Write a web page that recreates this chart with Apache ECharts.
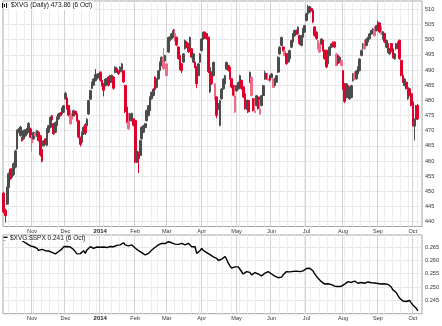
<!DOCTYPE html>
<html>
<head>
<meta charset="utf-8">
<script src="https://cdn.jsdelivr.net/npm/echarts@6/dist/echarts.min.js"></script>
<style>
  html, body { margin: 0; padding: 0; background: #fff; }
  #chart { width: 442px; height: 326px; }
</style>
</head>
<body>
<div id="chart"></div>
<script>
// ---- data -------------------------------------------------------------
const firstSession = '2013-10-09';
const lastSession = '2014-10-06';
const marketHolidays = ['2013-11-28', '2013-12-25', '2014-01-01', '2014-01-20',
  '2014-02-17', '2014-04-18', '2014-05-26', '2014-07-04', '2014-09-01'];
const monthNames = ['Jan', 'Feb', 'Mar', 'Apr', 'May', 'Jun', 'Jul', 'Aug', 'Sep', 'Oct', 'Nov', 'Dec'];

const priceTicks = [440, 445, 450, 455, 460, 465, 470, 475, 480, 485, 490, 495, 500, 505, 510];
const ratioTicks = [0.245, 0.250, 0.255, 0.260, 0.265];

// $XVG daily bars: [open, close, low, high]
const xvgBars = [
  [449.4,443.2,442.8,449.9],[443.8,442.0,439.7,444.3],[445.8,451.2,445.5,451.6],[451.3,455.8,451.0,456.2],
  [457.3,454.2,453.8,457.6],[454.6,457.2,454.3,457.6],[455.5,459.1,455.1,459.5],[458.0,463.3,457.6,463.7],
  [464.0,469.9,463.7,470.3],[469.4,470.5,469.2,470.8],[468.4,471.2,468.0,471.6],[467.8,466.7,466.4,468.0],
  [467.3,470.0,467.0,470.3],[468.3,470.3,468.0,470.5],[468.9,470.6,468.6,470.9],[469.5,472.4,469.2,472.8],
  [470.6,467.8,467.5,471.0],[466.0,467.5,463.1,468.6],[467.3,469.4,467.0,469.7],[468.2,469.2,468.0,469.8],
  [468.3,470.0,468.0,470.3],[469.5,466.8,466.4,469.8],[468.3,462.0,461.5,468.6],[463.8,460.0,459.5,464.2],
  [465.0,466.6,464.8,466.9],[467.3,465.6,465.3,467.5],[465.2,470.5,464.8,470.8],[469.5,471.6,469.2,471.9],
  [471.1,474.4,470.8,474.7],[474.9,473.5,471.4,475.2],[472.3,469.0,468.6,472.5],[469.5,472.7,469.2,473.0],
  [471.7,474.4,471.4,474.7],[473.9,475.5,473.6,475.8],[475.9,475.0,474.7,476.1],[475.5,477.4,475.2,477.7],
  [476.1,478.2,475.8,478.5],[480.5,482.3,480.2,482.8],[480.8,477.3,476.9,481.0],[478.3,475.1,474.7,478.5],
  [472.3,474.8,471.9,476.9],[473.8,474.6,473.6,475.8],[474.8,476.6,474.7,476.9],[476.4,475.4,475.2,476.5],
  [475.6,473.4,473.0,475.8],[473.3,467.9,467.5,473.6],[467.8,465.5,464.8,468.0],[466.2,469.3,465.9,469.7],
  [468.9,471.1,468.6,471.4],[472.0,469.3,468.6,472.5],[471.6,473.8,471.4,474.1],[475.5,479.9,475.2,480.2],
  [480.4,483.2,480.2,483.5],[483.9,485.9,483.7,486.2],[485.0,487.0,484.8,487.3],[486.5,488.5,486.2,490.3],
  [487.0,488.6,486.8,488.7],[487.5,488.8,487.3,489.0],[489.3,486.6,486.2,489.5],[486.6,485.0,484.6,486.8],
  [485.5,483.3,481.3,485.7],[484.8,487.0,484.6,487.3],[485.3,487.2,485.1,487.4],[487.7,485.0,484.6,487.9],
  [485.9,488.1,485.7,488.4],[487.0,488.3,486.8,488.5],[487.7,484.0,483.5,487.9],[489.2,490.9,489.0,491.2],
  [490.5,489.8,489.5,490.6],[489.8,488.8,488.4,490.0],[489.4,490.9,489.2,491.2],[490.2,492.0,490.0,492.3],
  [489.8,486.1,485.7,490.0],[484.9,476.3,475.8,485.1],[477.8,473.0,472.5,478.0],[470.6,472.8,470.3,475.8],
  [473.3,475.5,473.0,475.8],[473.3,475.7,473.0,475.9],[473.9,471.8,471.4,474.1],[473.4,460.0,459.3,473.6],
  [459.6,463.3,459.3,463.7],[462.9,460.8,456.0,463.1],[461.8,466.7,461.5,467.0],[467.3,471.1,467.0,471.4],
  [469.5,471.6,469.2,471.9],[471.0,472.3,470.8,472.5],[473.3,476.6,473.0,476.9],[475.0,478.2,474.7,478.5],
  [476.6,481.0,476.3,481.3],[480.5,482.6,480.2,482.9],[481.6,483.7,481.3,484.0],[487.7,483.6,483.5,487.9],
  [484.3,487.0,484.0,487.3],[487.1,489.7,486.8,490.0],[489.8,492.5,489.5,492.8],[491.5,494.2,491.2,494.5],
  [490.5,494.0,490.0,497.2],[493.0,494.8,492.8,495.0],[488.2,492.0,487.9,492.3],[495.9,500.7,495.6,501.0],
  [499.6,500.9,499.4,501.1],[500.3,501.9,500.0,502.2],[500.8,503.0,500.5,503.5],[499.7,502.0,499.4,503.5],
  [500.8,498.2,497.8,501.0],[497.6,493.8,493.4,497.8],[494.8,490.4,490.0,495.0],[492.1,489.8,489.0,492.3],
  [492.6,495.3,492.3,495.6],[497.0,499.7,496.7,500.0],[499.2,497.6,497.2,499.4],[498.7,496.0,495.6,498.9],
  [497.0,500.7,496.7,501.0],[497.0,494.3,493.9,497.2],[492.6,495.3,492.3,495.6],[492.6,491.0,490.6,492.8],
  [491.0,485.5,484.0,491.2],[488.2,492.0,487.9,492.3],[492.6,495.3,492.3,495.6],[496.4,500.2,496.1,500.5],
  [500.3,502.4,500.0,502.7],[502.5,500.9,500.5,502.7],[502.0,500.4,500.0,502.2],[500.8,489.5,489.0,501.0],
  [482.8,490.8,482.4,491.2],[489.3,485.5,485.1,489.5],[488.2,492.5,487.9,492.8],[480.5,485.4,480.2,485.7],
  [481.1,475.1,474.1,481.3],[477.1,478.8,476.9,479.1],[471.8,479.9,471.4,480.2],[480.5,483.7,480.2,484.0],
  [483.8,487.0,483.5,487.3],[485.4,488.1,485.1,488.4],[490.3,492.5,490.0,492.8],[491.5,489.9,489.5,491.7],
  [491.0,487.2,486.8,491.2],[487.1,484.4,484.0,487.3],[484.9,481.7,481.3,485.1],[476.2,481.4,475.8,484.6],
  [483.1,484.8,482.9,485.1],[483.8,485.9,483.5,486.2],[484.9,488.1,484.6,488.4],[486.6,483.9,483.5,486.8],
  [484.4,481.1,480.7,484.6],[482.2,477.3,476.9,482.4],[477.2,479.9,476.9,480.2],[480.0,476.2,475.8,480.2],
  [486.0,489.2,485.7,489.5],[481.6,487.5,481.3,487.9],[480.5,476.7,476.3,480.7],[476.0,476.5,475.8,480.2],
  [478.3,481.5,478.0,481.8],[481.1,477.3,476.9,481.3],[475.5,477.1,475.2,480.2],[478.3,481.5,478.0,481.8],
  [481.6,484.8,481.3,485.1],[487.0,489.0,486.8,489.8],[488.8,487.1,486.8,489.0],[486.7,487.0,486.5,489.0],
  [488.2,486.6,486.2,488.4],[487.5,488.7,487.3,489.0],[484.3,487.0,484.0,487.3],[484.9,487.2,484.6,487.4],
  [486.0,488.1,485.7,488.4],[489.3,494.2,489.0,494.5],[495.3,497.5,495.0,497.8],[498.1,500.7,497.8,501.0],
  [497.6,496.5,496.1,497.8],[494.8,496.3,494.5,496.7],[495.4,492.1,491.7,495.6],[492.6,494.7,492.3,495.0],
  [493.7,496.4,493.4,496.7],[497.5,499.7,497.2,500.0],[499.2,501.9,498.9,502.2],[501.3,503.0,501.0,503.3],
  [503.1,502.0,501.6,503.3],[501.9,504.1,501.6,504.4],[501.4,498.7,498.3,501.6],[498.1,501.3,497.8,501.6],
  [500.8,503.5,500.5,503.8],[502.5,504.6,502.2,504.9],[506.3,508.5,506.0,508.8],[508.5,510.7,508.2,511.5],
  [509.0,510.9,508.8,511.1],[510.3,509.6,509.3,510.5],[509.7,505.9,505.5,509.9],[504.2,501.4,501.0,504.4],
  [502.5,500.4,500.0,502.7],[497.0,499.7,496.7,500.0],[495.9,498.6,495.6,498.9],[498.6,500.2,498.3,500.5],
  [499.8,496.5,496.1,500.0],[496.5,493.8,493.4,496.7],[496.5,491.0,490.6,496.7],[492.0,494.7,491.7,495.0],
  [494.8,497.5,494.5,497.8],[497.5,498.6,497.2,498.9],[499.2,498.2,497.8,499.4],[499.2,497.6,497.2,499.4],
  [491.5,495.3,491.2,495.6],[494.8,492.1,491.7,495.0],[492.6,494.2,492.3,494.5],[491.5,493.1,491.2,493.4],
  [489.8,483.9,483.5,490.0],[485.5,479.6,479.1,485.7],[481.0,485.4,480.7,485.7],[484.9,481.1,480.7,485.1],
  [480.5,484.3,480.2,484.6],[481.0,484.8,480.7,485.1],[486.5,488.7,486.2,489.0],[487.0,488.5,486.8,489.5],
  [487.1,489.7,486.8,490.0],[488.7,490.9,488.4,491.2],[489.8,493.6,489.5,493.9],[494.8,496.4,494.5,496.7],
  [497.0,498.6,496.7,498.9],[497.0,498.4,496.7,500.0],[498.1,500.2,497.8,500.5],[499.2,500.7,498.9,501.0],
  [500.3,501.9,500.0,502.2],[501.9,503.0,501.6,503.3],[502.5,503.5,502.2,503.8],[501.3,503.3,501.0,504.4],
  [503.0,504.6,502.7,504.9],[503.6,505.7,503.3,506.3],[505.5,502.6,502.2,505.8],[501.8,502.4,501.6,504.4],
  [500.3,502.6,500.0,502.8],[502.0,499.3,498.9,502.2],[497.5,499.7,497.2,500.0],[498.7,496.0,495.6,498.9],
  [495.3,496.9,495.0,497.2],[498.7,496.0,495.6,498.9],[497.0,494.3,493.9,497.2],[493.7,495.3,493.4,495.6],
  [497.0,498.6,496.7,498.9],[498.1,499.1,497.8,499.4],[499.8,493.8,493.4,500.0],[493.2,488.3,487.9,493.4],
  [488.2,486.1,485.7,488.4],[484.9,487.0,484.6,487.3],[486.0,483.9,483.5,486.2],[480.5,484.3,480.2,484.6],
  [483.8,481.7,481.3,484.0],[482.2,478.4,478.0,482.4],[479.5,472.0,471.4,480.0],[471.5,473.5,466.8,474.0],
  [473.8,477.8,473.4,478.5],[478.3,473.86,473.5,478.8]
];

// $XVG:$SPX ratio, daily close
const xvgSpxRatio = [
  0.2678, 0.2676, 0.2680, 0.2683, 0.2681, 0.2684, 0.2686, 0.2683, 0.2685, 0.2682,
  0.2679, 0.2676, 0.2671, 0.2668, 0.2663, 0.2659, 0.2655, 0.2650, 0.2652, 0.2655,
  0.2646, 0.2638, 0.2637, 0.2642, 0.2640, 0.2637, 0.2639, 0.2636, 0.2633, 0.2631,
  0.2627, 0.2625, 0.2631, 0.2634, 0.2636, 0.2644, 0.2652, 0.2659, 0.2653, 0.2650,
  0.2651, 0.2648, 0.2641, 0.2634, 0.2625, 0.2621, 0.2626, 0.2631, 0.2637, 0.2627,
  0.2640, 0.2646, 0.2652, 0.2650, 0.2646, 0.2649, 0.2651, 0.2648, 0.2650, 0.2647,
  0.2651, 0.2652, 0.2649, 0.2651, 0.2653, 0.2655, 0.2652, 0.2655, 0.2657, 0.2656,
  0.2659, 0.2662, 0.2667, 0.2659, 0.2657, 0.2655, 0.2657, 0.2659, 0.2655, 0.2647,
  0.2642, 0.2637, 0.2634, 0.2630, 0.2625, 0.2621, 0.2625, 0.2627, 0.2633, 0.2640,
  0.2646, 0.2650, 0.2655, 0.2659, 0.2662, 0.2665, 0.2667, 0.2664, 0.2668, 0.2671,
  0.2669, 0.2667, 0.2665, 0.2662, 0.2659, 0.2661, 0.2664, 0.2665, 0.2662, 0.2659,
  0.2663, 0.2665, 0.2660, 0.2652, 0.2656, 0.2652, 0.2627, 0.2630, 0.2637, 0.2646,
  0.2638, 0.2634, 0.2630, 0.2627, 0.2622, 0.2617, 0.2614, 0.2612, 0.2608, 0.2600,
  0.2603, 0.2605, 0.2610, 0.2615, 0.2605, 0.2590, 0.2580, 0.2571, 0.2574, 0.2576,
  0.2583, 0.2576, 0.2567, 0.2560, 0.2549, 0.2553, 0.2558, 0.2564, 0.2555, 0.2546,
  0.2551, 0.2554, 0.2552, 0.2549, 0.2546, 0.2542, 0.2547, 0.2552, 0.2555, 0.2558,
  0.2553, 0.2549, 0.2546, 0.2541, 0.2539, 0.2535, 0.2529, 0.2537, 0.2546, 0.2552,
  0.2558, 0.2558, 0.2557, 0.2558, 0.2559, 0.2558, 0.2560, 0.2562, 0.2558, 0.2557,
  0.2561, 0.2564, 0.2570, 0.2574, 0.2571, 0.2567, 0.2560, 0.2549, 0.2541, 0.2533,
  0.2527, 0.2520, 0.2515, 0.2511, 0.2510, 0.2512, 0.2511, 0.2509, 0.2508, 0.2503,
  0.2498, 0.2502, 0.2504, 0.2503, 0.2505, 0.2511, 0.2517, 0.2520, 0.2518, 0.2517,
  0.2520, 0.2522, 0.2517, 0.2514, 0.2516, 0.2517, 0.2515, 0.2514, 0.2517, 0.2519,
  0.2517, 0.2516, 0.2517, 0.2515, 0.2514, 0.2513, 0.2514, 0.2511, 0.2508, 0.2512,
  0.2514, 0.2510, 0.2508, 0.2500, 0.2489, 0.2484, 0.2479, 0.2468, 0.2458, 0.2452,
  0.2447, 0.2446, 0.2445, 0.2441, 0.2449, 0.2440, 0.2432, 0.2425, 0.2420, 0.2410
];

// ---- session calendar -------------------------------------------------
const DAY_MS = 86400000;
function tradingSessions(from, to, holidays) {
  const closed = new Set(holidays);
  const out = [];
  const end = Date.parse(to + 'T00:00:00Z');
  for (let t = Date.parse(from + 'T00:00:00Z'); t <= end; t += DAY_MS) {
    const d = new Date(t);
    const wd = d.getUTCDay();
    const iso = d.toISOString().slice(0, 10);
    if (wd === 0 || wd === 6 || closed.has(iso)) continue;
    out.push(iso);
  }
  return out;
}
const sessions = tradingSessions(firstSession, lastSession, marketHolidays);
const slots = sessions.concat(['', '']);   // a little room after the last bar

const weekday = s => new Date(s + 'T00:00:00Z').getUTCDay();
const isMonthStart = slots.map((s, i) => i > 0 && s !== '' && s.slice(5, 7) !== slots[i - 1].slice(5, 7));
const isWeekStart = slots.map((s, i) => i > 0 && s !== '' && !isMonthStart[i] && weekday(s) < weekday(slots[i - 1]));

function monthLabel(value) {
  const m = +value.slice(5, 7);
  return m === 1 ? '{yr|' + value.slice(0, 4) + '}' : monthNames[m - 1];
}

// ---- bar colouring (black = up vs prior close, red = down; hollow when close > open)
const lastIdx = xvgBars.length - 1;
const candleData = xvgBars.map((b, i) => {
  const open = b[0], close = b[1];
  const prevClose = i > 0 ? xvgBars[i - 1][1] : open;
  const down = close < prevClose;
  const hollow = close > open;
  const col = down ? (hollow ? '#ee6a86' : '#e0002c') : (hollow ? '#4c4c4c' : '#111111');
  return { value: b, itemStyle: { color: col, color0: col, borderColor: col, borderColor0: col } };
});

// ---- chart ------------------------------------------------------------
const FONT = '"Liberation Sans", Arial, sans-serif';
const labelStyle = { fontSize: 5.6, color: '#333', fontFamily: FONT };

function categoryAxis(gridIndex, extra) {
  return Object.assign({
    type: 'category', gridIndex: gridIndex, data: slots, boundaryGap: true, position: 'bottom',
    axisLine: { show: false }, axisTick: { show: false },
    axisLabel: { show: false }, splitLine: { show: false }
  }, extra);
}
const weekGrid = { show: true, interval: i => isWeekStart[i], lineStyle: { color: '#ededed', width: 1 } };
const monthGrid = { show: true, interval: i => isMonthStart[i], lineStyle: { color: '#d3d3d3', width: 1 } };
const monthLabels = Object.assign({
  show: true, interval: i => isMonthStart[i], formatter: monthLabel, margin: 2,
  rich: { yr: { fontSize: 6, fontWeight: 'bold', color: '#222', fontFamily: FONT } }
}, labelStyle);

const chart = echarts.init(document.getElementById('chart'), null, { renderer: 'canvas' });
chart.setOption({
  animation: false,
  backgroundColor: '#fff',
  grid: [
    { left: 3, top: 1, width: 419, height: 225.5, show: true, borderColor: '#a6a6a6', borderWidth: 1 },
    { left: 3, top: 235, width: 419, height: 78.7, show: true, borderColor: '#a6a6a6', borderWidth: 1 }
  ],
  xAxis: [
    categoryAxis(0, { splitLine: weekGrid }),
    categoryAxis(0, { splitLine: monthGrid, axisLabel: monthLabels }),
    categoryAxis(1, { splitLine: weekGrid }),
    categoryAxis(1, { splitLine: monthGrid, axisLabel: monthLabels })
  ],
  yAxis: [
    {
      type: 'value', gridIndex: 0, position: 'right', min: 438.42, max: 512.74,
      axisLine: { show: false }, axisTick: { show: false, customValues: priceTicks },
      axisLabel: Object.assign({ customValues: priceTicks, margin: 3 }, labelStyle),
      splitLine: { show: true, lineStyle: { color: '#e6e6e6' } }
    },
    {
      type: 'value', gridIndex: 1, position: 'right', min: 0.2399, max: 0.26964,
      axisLine: { show: false }, axisTick: { show: false, customValues: ratioTicks },
      axisLabel: Object.assign({ customValues: ratioTicks, margin: 3, formatter: v => v.toFixed(3) }, labelStyle),
      splitLine: { show: true, lineStyle: { color: '#e6e6e6' } }
    }
  ],
  series: [
    {
      type: 'candlestick', name: '$XVG', xAxisIndex: 1, yAxisIndex: 0,
      data: candleData, barWidth: 2.2, itemStyle: { borderWidth: 1 }
    },
    {
      type: 'line', name: '$XVG:$SPX', xAxisIndex: 3, yAxisIndex: 1,
      data: xvgSpxRatio, symbol: 'none', lineStyle: { color: '#000', width: 1.4 }
    }
  ],
  graphic: [
    // price panel caption with a small candle glyph
    { type: 'rect', z: 100, shape: { x: 2, y: 3, width: 1, height: 5 }, style: { fill: '#111' } },
    { type: 'rect', z: 100, shape: { x: 4, y: 4, width: 1, height: 3 }, style: { fill: '#111' } },
    { type: 'rect', z: 100, shape: { x: 6, y: 3, width: 1, height: 5 }, style: { fill: '#111' } },
    {
      type: 'text', z: 100, x: 10, y: 5.5,
      style: {
        text: '$XVG (Daily) ' + xvgBars[lastIdx][1].toFixed(2) + ' (6 Oct)',
        font: '6.5px ' + FONT, fill: '#111', verticalAlign: 'middle',
        backgroundColor: '#fff', padding: [1, 1, 1, 1]
      }
    },
    // ratio panel caption
    { type: 'rect', z: 100, shape: { x: 3.5, y: 235.5, width: 85, height: 5.5 }, style: { fill: '#fff' } },
    { type: 'rect', z: 101, shape: { x: 3.5, y: 236.6, width: 4, height: 1.4 }, style: { fill: '#000' } },
    { type: 'rect', z: 101, shape: { x: 3.5, y: 240, width: 2, height: 0.8 }, style: { fill: '#888' } },
    {
      type: 'text', z: 101, x: 10, y: 238.3,
      style: {
        text: '$XVG:$SPX ' + xvgSpxRatio[xvgSpxRatio.length - 1].toFixed(3) + ' (6 Oct)',
        font: '6.5px ' + FONT, fill: '#111', verticalAlign: 'middle'
      }
    }
  ]
});
</script>
</body>
</html>
